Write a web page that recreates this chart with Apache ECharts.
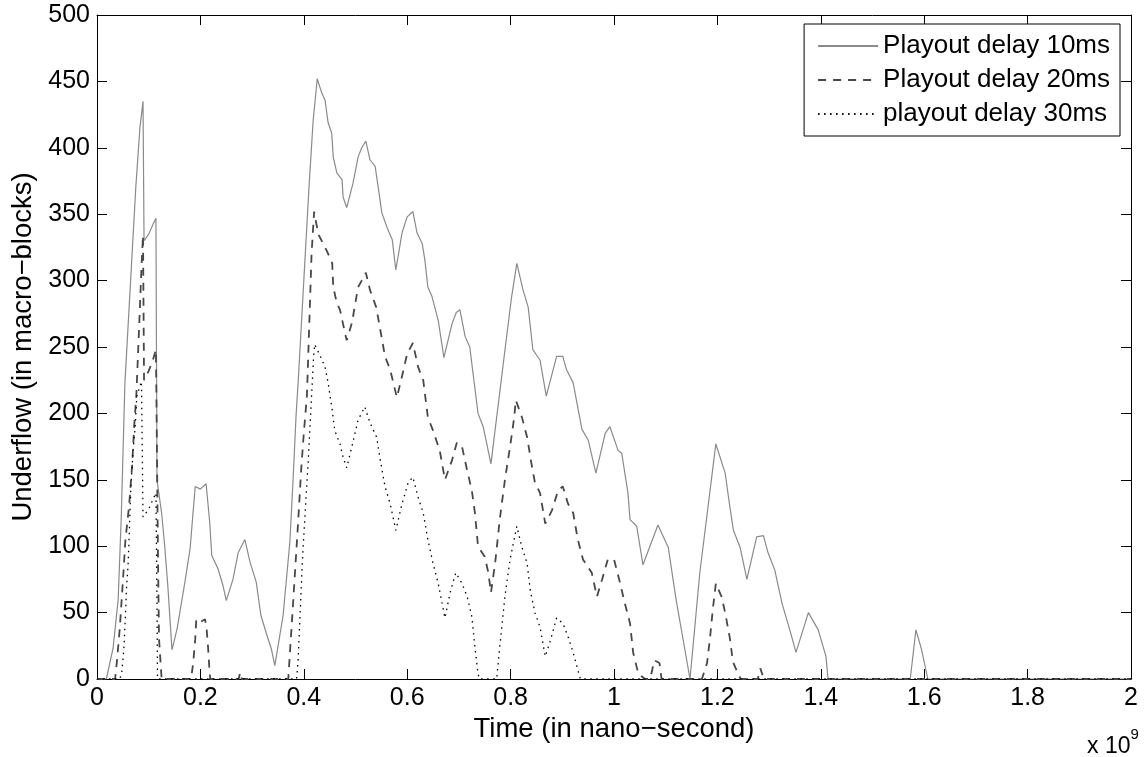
<!DOCTYPE html>
<html>
<head>
<meta charset="utf-8">
<script src="https://cdn.jsdelivr.net/npm/echarts/dist/echarts.min.js"></script>
<style>html,body{margin:0;padding:0;background:#fff;}#chart{width:1147px;height:757px;}</style>
</head>
<body>
<div id="chart"></div>
<script>
// Time in units of 1e9 ns, underflow in macro-blocks
var seriesNames = ['Playout delay 10ms', 'Playout delay 20ms', 'playout delay 30ms'];
var xTicks = [0, 0.2, 0.4, 0.6, 0.8, 1, 1.2, 1.4, 1.6, 1.8, 2];
var yTicks = [0, 50, 100, 150, 200, 250, 300, 350, 400, 450, 500];

var delay10 = [[0,0],[0.018,0],[0.031,23],[0.041,60],[0.047,123],[0.054,223],[0.065,300],[0.075,370],[0.083,415],[0.089,435],[0.091,330],[0.1,335],[0.108,342],[0.114,347],[0.116,150],[0.125,125],[0.131,100],[0.137,70],[0.142,40],[0.145,22],[0.155,38],[0.17,73],[0.18,98],[0.19,145],[0.2,143],[0.211,147],[0.218,118],[0.222,93],[0.234,83],[0.244,70],[0.25,59],[0.263,75],[0.273,95],[0.286,105],[0.296,88],[0.308,73],[0.317,48],[0.327,35],[0.337,23],[0.344,10],[0.36,48],[0.373,103],[0.379,148],[0.385,198],[0.389,223],[0.4,300],[0.41,370],[0.418,420],[0.426,452],[0.435,441],[0.441,436],[0.447,419],[0.454,411],[0.457,393],[0.464,381],[0.474,376],[0.476,363],[0.483,355],[0.495,373],[0.505,393],[0.512,400],[0.52,405],[0.528,391],[0.538,386],[0.544,370],[0.551,351],[0.561,340],[0.571,331],[0.578,308],[0.59,336],[0.6,348],[0.611,352],[0.619,336],[0.629,328],[0.634,316],[0.64,295],[0.648,288],[0.66,270],[0.671,242],[0.687,268],[0.695,276],[0.702,278],[0.712,258],[0.721,250],[0.737,200],[0.747,190],[0.762,162],[0.786,238],[0.802,288],[0.812,313],[0.824,293],[0.834,280],[0.843,248],[0.857,240],[0.869,213],[0.889,243],[0.901,243],[0.908,233],[0.921,223],[0.938,188],[0.95,180],[0.965,155],[0.983,185],[0.992,190],[1.008,172],[1.015,170],[1.027,140],[1.031,120],[1.044,115],[1.056,86],[1.085,116],[1.105,99],[1.12,60],[1.134,29],[1.147,0],[1.166,80],[1.197,177],[1.215,155],[1.224,130],[1.231,112],[1.244,99],[1.257,75],[1.276,107],[1.289,108],[1.298,95],[1.311,82],[1.325,57],[1.34,37],[1.352,20],[1.376,50],[1.395,37],[1.41,17],[1.414,0],[1.573,0],[1.584,37],[1.595,22],[1.607,0],[2,0]];

var delay20 = [[0,0],[0.035,0],[0.039,15],[0.044,38],[0.05,73],[0.055,105],[0.062,130],[0.068,161],[0.072,191],[0.076,213],[0.082,270],[0.086,310],[0.089,334],[0.091,225],[0.1,232],[0.108,240],[0.114,248],[0.116,170],[0.118,90],[0.12,30],[0.125,0],[0.182,0],[0.186,12],[0.19,30],[0.192,45],[0.2,43],[0.209,45],[0.212,38],[0.215,23],[0.217,10],[0.219,0],[0.274,0],[0.277,5],[0.28,0],[0.37,0],[0.374,25],[0.377,43],[0.381,68],[0.385,93],[0.389,118],[0.395,158],[0.4,185],[0.406,213],[0.41,260],[0.415,320],[0.42,352],[0.428,335],[0.445,322],[0.455,313],[0.457,295],[0.464,283],[0.47,278],[0.48,260],[0.483,255],[0.493,268],[0.505,295],[0.512,300],[0.52,306],[0.528,293],[0.54,280],[0.547,265],[0.557,243],[0.567,233],[0.58,212],[0.59,228],[0.6,245],[0.611,253],[0.621,235],[0.631,225],[0.64,197],[0.65,187],[0.663,172],[0.673,150],[0.687,165],[0.696,178],[0.706,175],[0.716,157],[0.725,142],[0.731,125],[0.737,100],[0.75,92],[0.757,80],[0.762,65],[0.77,87],[0.779,120],[0.789,150],[0.799,175],[0.807,197],[0.81,210],[0.822,197],[0.832,182],[0.84,163],[0.847,148],[0.857,140],[0.867,117],[0.88,127],[0.892,142],[0.901,145],[0.911,132],[0.921,125],[0.93,105],[0.94,90],[0.957,80],[0.967,62],[0.977,75],[0.988,90],[1.0,90],[1.01,75],[1.021,57],[1.031,42],[1.037,20],[1.047,4],[1.06,0],[1.07,0],[1.078,14],[1.088,12],[1.092,0],[1.17,0],[1.18,12],[1.186,32],[1.191,52],[1.197,72],[1.208,62],[1.215,50],[1.224,31],[1.23,13],[1.24,4],[1.245,0],[1.278,0],[1.283,8],[1.29,0],[2,0]];

var delay30 = [[0,0],[0.044,0],[0.048,5],[0.052,23],[0.055,48],[0.057,68],[0.06,85],[0.062,105],[0.064,128],[0.066,148],[0.07,173],[0.074,191],[0.077,213],[0.086,224],[0.089,122],[0.1,128],[0.108,135],[0.114,140],[0.116,60],[0.117,0],[0.386,0],[0.389,14],[0.393,50],[0.397,87],[0.403,128],[0.409,167],[0.415,213],[0.419,243],[0.421,252],[0.432,243],[0.441,235],[0.447,223],[0.454,205],[0.46,187],[0.47,177],[0.476,167],[0.483,159],[0.493,175],[0.505,195],[0.518,205],[0.528,193],[0.541,182],[0.547,167],[0.557,145],[0.567,132],[0.578,112],[0.59,132],[0.602,148],[0.611,152],[0.621,137],[0.631,125],[0.64,105],[0.65,87],[0.66,72],[0.673,46],[0.683,65],[0.694,80],[0.706,72],[0.716,62],[0.725,47],[0.731,24],[0.737,4],[0.74,0],[0.773,0],[0.779,24],[0.789,62],[0.799,90],[0.812,115],[0.822,99],[0.832,87],[0.838,67],[0.847,50],[0.857,39],[0.867,17],[0.877,29],[0.889,46],[0.901,42],[0.911,32],[0.921,20],[0.932,4],[0.935,0],[2,0]];

var FONT = '"Liberation Sans", Arial, Helvetica, sans-serif';
var chart = echarts.init(document.getElementById('chart'), null, {renderer: 'canvas'});

function xAxisBase(pos, show) {
  return {
    type: 'value', position: pos, min: xTicks[0], max: xTicks[xTicks.length - 1], interval: 0.2,
    axisLine: {show: true, onZero: false, lineStyle: {color: '#000', width: 1}},
    axisTick: {show: true, inside: true, length: 10, lineStyle: {color: '#000', width: 1}},
    axisLabel: {show: show, color: '#000', fontFamily: FONT, fontSize: 25, margin: 7,
      formatter: function (v) { return String(Math.round(v * 10) / 10); }},
    splitLine: {show: false}
  };
}
function yAxisBase(pos, show) {
  return {
    type: 'value', position: pos, min: yTicks[0], max: yTicks[yTicks.length - 1], interval: 50,
    axisLine: {show: true, onZero: false, lineStyle: {color: '#000', width: 1}},
    axisTick: {show: true, inside: true, length: 10, lineStyle: {color: '#000', width: 1}},
    axisLabel: {show: show, color: '#000', fontFamily: FONT, fontSize: 25, margin: 7},
    splitLine: {show: false}
  };
}

var xa0 = xAxisBase('bottom', true);
xa0.name = 'Time (in nano\u2212second)';
xa0.nameLocation = 'middle';
xa0.nameGap = 21;
xa0.nameTextStyle = {color: '#000', fontFamily: FONT, fontSize: 27.5, verticalAlign: 'top'};
var ya0 = yAxisBase('left', true);
ya0.name = 'Underflow (in macro\u2212blocks)';
ya0.nameLocation = 'middle';
ya0.nameGap = 58;
ya0.nameTextStyle = {color: '#000', fontFamily: FONT, fontSize: 27.5};

var option = {
  animation: false,
  backgroundColor: '#fff',
  grid: {left: 97, right: 16, top: 15, bottom: 78, containLabel: false},
  xAxis: [xa0, xAxisBase('top', false)],
  yAxis: [ya0, yAxisBase('right', false)],
  legend: {
    data: seriesNames,
    orient: 'vertical', right: 27, top: 24,
    itemWidth: 60, itemHeight: 26, itemGap: 8,
    padding: [9, 10, 9, 13],
    borderColor: '#000', borderWidth: 1, borderRadius: 0,
    backgroundColor: '#fff',
    itemStyle: {opacity: 0},
    textStyle: {color: '#000', fontFamily: FONT, fontSize: 26, lineHeight: 26}
  },
  graphic: [{
    type: 'text', left: 1087, top: 727,
    style: {
      text: '{b|x 10}{s|9}', fill: '#000',
      rich: {
        b: {fontFamily: FONT, fontSize: 23, fill: '#000', padding: [8, 0, 0, 0]},
        s: {fontFamily: FONT, fontSize: 15, fill: '#000', verticalAlign: 'top', padding: [0, 0, 10, 0]}
      }
    }
  }],
  series: [
    {name: seriesNames[0], type: 'line', data: delay10, symbol: 'none', showSymbol: false,
      lineStyle: {color: '#8a8a8a', width: 1.2, type: 'solid'}, itemStyle: {color: '#8a8a8a'}, z: 3},
    {name: seriesNames[1], type: 'line', data: delay20, symbol: 'none', showSymbol: false,
      lineStyle: {color: '#474747', width: 1.8, type: [8, 7]}, itemStyle: {color: '#474747'}, z: 4},
    {name: seriesNames[2], type: 'line', data: delay30, symbol: 'none', showSymbol: false,
      lineStyle: {color: '#000', width: 1.3, type: [1.5, 4.5]}, itemStyle: {color: '#000'}, z: 5}
  ]
};
chart.setOption(option);
</script>
</body>
</html>
